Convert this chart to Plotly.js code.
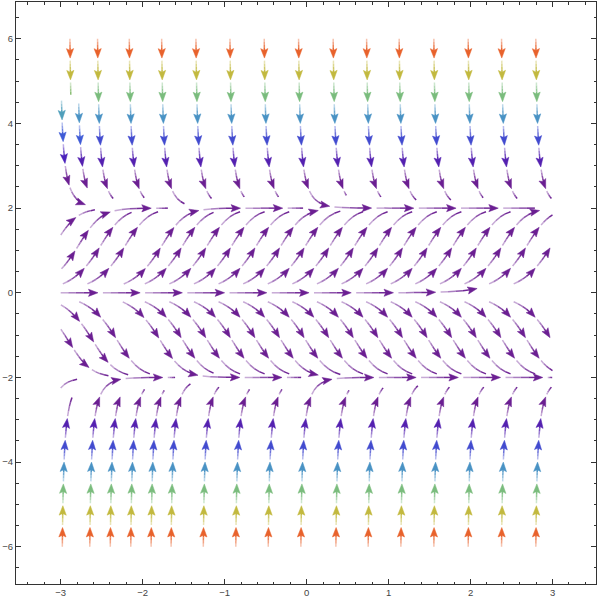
<!DOCTYPE html>
<html><head><meta charset="utf-8">
<script src="https://cdn.plot.ly/plotly-3.0.1.min.js"></script>
<style>html,body{margin:0;padding:0;background:#fff}</style>
</head><body><div id="chart" style="width:600px;height:598px"></div>
<script>
// ---------- chart data ----------
// vector field  dx/dt = fieldX ,  dy/dt = fieldYCoef[0]*y + fieldYCoef[1]*y^3
const fieldX = 1;
const fieldYCoef = [4, -1];
const streamXRange = [-3, 3];
const streamYRange = [-6, 6];
const xTickVals = [-3, -2, -1, 0, 1, 2, 3];
const yTickVals = [-6, -4, -2, 0, 2, 4, 6];

// streamlines: start point and where each one stops
const lineStartX = [-3.0,
  -2.887, -2.55, -2.163, -1.768, -1.35, -0.935, -0.517, -0.098, 0.324, 0.732, 1.129, 1.552, 1.971, 2.378, 2.796,
  -2.99, -2.78,
  -2.98, -2.645, -2.395, -2.145, -1.897, -1.653, -1.26, -0.864, -0.468, -0.07, 0.357, 0.751, 1.15, 1.552, 1.971, 2.378, 2.796,
  -3.0, -2.99, -1.646, -1.69];
const lineStartY = [1.5e-10,
  6, 6, 6, 6, 6, 6, 6, 6, 6, 6, 6, 6, 6, 6, 6,
  4.54, 4.47,
  -6, -6, -6, -6, -6, -6, -6, -6, -6, -6, -6, -6, -6, -6, -6, -6, -6,
  -2.25, 0.565, 1.47, -1.41];
const lineStopY = [null,
  4.66, 2.22, 2.24, 2.10, 2.22, 2.26, 2.26, null, 2.30, 2.26, 2.18, 2.18, 2.24, 2.22, 2.22,
  2.04, 2.38,
  -2.47, null, -2.35, -2.27, -2.30, -2.14, -2.22, -2.27, -2.27, null, -2.30, -2.23, -2.19, -2.22, -2.22, -2.22, -2.22,
  null, null, null, null];
const lineStopX = [2.15,
  null, null, null, null, null, null, null, 2.79, null, null, null, null, null, null, null,
  null, null,
  null, -1.6, null, null, null, null, null, null, null, 3, null, null, null, null, null, null, null,
  -2.79, -1.69, -0.04, -0.06];
const lineTraceBack = [0,
  0,0,0,0,0,0,0,0,0,0,0,0,0,0,0,
  0,0,
  0,0,0,0,0,0,0,0,0,0,0,0,0,0,0,0,0,
  0,0,1,1];
// rows of extra seed points between the equilibria (filled where there is room)
const seedRowsY = [1.0, -1.0, 0.5, -0.5, 1.5, -1.5, 0.25, -0.25, 1.75, -1.75, 0.75, -0.75, 1.25, -1.25];

// ---------- geometry ----------
const W = 600, H = 598;
const margin = {l: 16, r: 4, t: 2, b: 14, pad: 0};
const xr = [-3.545, 3.53], yr = [-6.88, 6.87];
const pw = W - margin.l - margin.r, ph = H - margin.t - margin.b;
const sx = pw / (xr[1] - xr[0]), sy = ph / (yr[1] - yr[0]);
const toPx = (x, y) => [(x - xr[0]) * sx, (yr[1] - y) * sy];
const toX = p => xr[0] + p[0] / sx;
const toY = p => yr[1] - p[1] / sy;

function vel(x, y) { return [fieldX, fieldYCoef[0] * y + fieldYCoef[1] * y * y * y]; }
function dirPx(p) {
  const v = vel(toX(p), toY(p));
  const a = v[0] * sx, b = -v[1] * sy;
  const m = Math.hypot(a, b) || 1;
  return [a / m, b / m];
}
function rk4(p, h) {
  const k1 = dirPx(p);
  const k2 = dirPx([p[0] + h / 2 * k1[0], p[1] + h / 2 * k1[1]]);
  const k3 = dirPx([p[0] + h / 2 * k2[0], p[1] + h / 2 * k2[1]]);
  const k4 = dirPx([p[0] + h * k3[0], p[1] + h * k3[1]]);
  return [p[0] + h / 6 * (k1[0] + 2 * k2[0] + 2 * k3[0] + k4[0]),
          p[1] + h / 6 * (k1[1] + 2 * k2[1] + 2 * k3[1] + k4[1])];
}

// spatial grid for spacing
const CELL = 8, grid = new Map();
const gkey = (i, j) => (i + 100) * 1000 + (j + 100);
function register(pts, id) {
  for (const p of pts) {
    const k = gkey(Math.floor(p[0] / CELL), Math.floor(p[1] / CELL));
    if (!grid.has(k)) grid.set(k, []);
    grid.get(k).push([p[0], p[1], id]);
  }
}
function near(px, py, d, id) {
  const r = Math.ceil(d / CELL), i0 = Math.floor(px / CELL), j0 = Math.floor(py / CELL), d2 = d * d;
  for (let i = i0 - r; i <= i0 + r; i++) for (let j = j0 - r; j <= j0 + r; j++) {
    const a = grid.get(gkey(i, j)); if (!a) continue;
    for (const q of a) { if (q[2] === id) continue; const dx = q[0] - px, dy = q[1] - py; if (dx * dx + dy * dy < d2) return true; }
  }
  return false;
}

function integrate(x0, y0, sign, o) {
  let p = toPx(x0, y0); const pts = [p];
  const yDown = o.stopY != null && o.stopY < y0;
  for (let n = 0; n < 4000; n++) {
    const q = rk4(p, sign * 1.0);
    const x = toX(q), y = toY(q);
    if (x < streamXRange[0] - 1e-9 || x > streamXRange[1] + 1e-9 || y < streamYRange[0] - 1e-9 || y > streamYRange[1] + 1e-9) break;
    if (o.stopX != null && x >= o.stopX) break;
    if (o.stopY != null && (yDown ? y <= o.stopY : y >= o.stopY)) break;
    if (o.dtest && near(q[0], q[1], o.dtest, o.id)) break;
    if (o.angle) { const d = dirPx(q); if (Math.abs(d[1]) < o.angle) break; }
    pts.push(q); p = q;
  }
  return pts;
}

const allLines = [];
let lid = 0;
const DSEP = 17, DT_F = 3.5, DT_B = 3.5;
const ANG_F = Math.sin(9 * Math.PI / 180), ANG_B = Math.sin(23 * Math.PI / 180);
// explicit lines
for (let i = 0; i < lineStartX.length; i++) {
  const id = lid++;
  const fwd = integrate(lineStartX[i], lineStartY[i], 1, {stopX: lineStopX[i], stopY: lineStopY[i], id});
  let pts = fwd;
  if (lineTraceBack[i]) {
    const bwd = integrate(lineStartX[i], lineStartY[i], -1, {dtest: DT_B, id, angle: ANG_B});
    pts = bwd.reverse().concat(fwd.slice(1));
  }
  register(pts, id); allLines.push(pts);
}
// automatic fill between equilibria
for (const ys of seedRowsY) {
  for (let k = 0; k < 60; k++) {
    const xs = -2.95 + 0.1 * k;
    const p = toPx(xs, ys);
    if (near(p[0], p[1], DSEP, -1)) continue;
    const id = lid++;
    const fwd = integrate(xs, ys, 1, {dtest: DT_F, id, angle: ANG_F});
    const bwd = integrate(xs, ys, -1, {dtest: DT_B, id, angle: ANG_B});
    const pts = bwd.reverse().concat(fwd.slice(1));
    if (pts.length < 12) continue;
    register(pts, id); allLines.push(pts);
  }
}

// ---------- styling ----------
const colorStops = [[0, '#6b1f92'], [0.06, '#6b1f92'], [0.125, '#4a22bd'], [0.21, '#3e60d8'], [0.32, '#4b9cc0'],
  [0.46, '#7bbd7b'], [0.65, '#c6b93c'], [0.89, '#e8622c'], [1, '#e8622c']];
const hex2rgb = h => [parseInt(h.slice(1, 3), 16), parseInt(h.slice(3, 5), 16), parseInt(h.slice(5, 7), 16)];
function colorAt(u) {
  for (let i = 1; i < colorStops.length; i++) {
    if (u <= colorStops[i][0]) {
      const [u0, c0] = colorStops[i - 1], [u1, c1] = colorStops[i];
      const t = (u - u0) / ((u1 - u0) || 1), a = hex2rgb(c0), b = hex2rgb(c1);
      return a.map((v, j) => v + t * (b[j] - v));
    }
  }
  return hex2rgb(colorStops[colorStops.length - 1][1]);
}
const vmax = Math.hypot(...vel(0, streamYRange[1]));
const NB = 40;
function bin(x, y) { const u = Math.min(1, Math.hypot(...vel(x, y)) / vmax); return Math.round(Math.sqrt(u) * NB); }
function binColor(b, w) {
  const c = colorAt(Math.pow(b / NB, 2));
  const m = c.map(v => Math.round(v + (255 - v) * w));
  return `rgb(${m[0]},${m[1]},${m[2]})`;
}
const FADE = [0.62, 0.42, 0.22, 0.04];
const P_ARC = 0.515, D_ARC = 0.455, AL = 9.5, AW = 3.6;

const lineBuckets = new Map(), arrowBuckets = new Map();
function bucket(map, k) { if (!map.has(k)) map.set(k, {x: [], y: []}); return map.get(k); }
function pushPx(bk, pts) { for (const p of pts) { bk.x.push(toX(p)); bk.y.push(toY(p)); } bk.x.push(null); bk.y.push(null); }

function pxLen(pts) { let L = 0; for (let i = 1; i < pts.length; i++) L += Math.hypot(pts[i][0] - pts[i - 1][0], pts[i][1] - pts[i - 1][1]); return L; }
function trimEnd(pts, len) {
  let acc = 0;
  for (let i = pts.length - 1; i > 0; i--) {
    const d = Math.hypot(pts[i][0] - pts[i - 1][0], pts[i][1] - pts[i - 1][1]);
    if (acc + d >= len) { const t = (len - acc) / d; const q = [pts[i][0] + t * (pts[i - 1][0] - pts[i][0]), pts[i][1] + t * (pts[i - 1][1] - pts[i][1])]; return pts.slice(0, i).concat([q]); }
    acc += d;
  }
  return [pts[0]];
}
function splitPx(pts, parts) {
  const L = pxLen(pts), out = []; let cur = [pts[0]], acc = 0, target = L / parts, idx = 1;
  for (let i = 1; i < pts.length; i++) {
    let a = pts[i - 1], b = pts[i], d = Math.hypot(b[0] - a[0], b[1] - a[1]);
    while (idx < parts && acc + d >= target * idx) {
      const t = (target * idx - acc) / d; const q = [a[0] + t * (b[0] - a[0]), a[1] + t * (b[1] - a[1])];
      cur.push(q); out.push(cur); cur = [q]; idx++;
    }
    cur.push(b); acc += d;
  }
  out.push(cur);
  return out;
}

function drawLine(pts) {
  const n = pts.length; if (n < 2) return;
  const s = new Array(n); s[0] = 0;
  for (let i = 1; i < n; i++) s[i] = s[i - 1] + Math.hypot((pts[i][0] - pts[i - 1][0]) / sx, (pts[i][1] - pts[i - 1][1]) / sy);
  const total = s[n - 1];
  const at = v => {
    let lo = 0, hi = n - 1; while (hi - lo > 1) { const m = (lo + hi) >> 1; if (s[m] <= v) lo = m; else hi = m; }
    const t = (v - s[lo]) / ((s[hi] - s[lo]) || 1);
    return [pts[lo][0] + t * (pts[hi][0] - pts[lo][0]), pts[lo][1] + t * (pts[hi][1] - pts[lo][1])];
  };
  const slice = (a, b) => { const o = [at(a)]; for (let i = 0; i < n; i++) if (s[i] > a && s[i] < b) o.push(pts[i]); o.push(at(b)); return o; };
  for (let k = 0; k * P_ARC < total - 0.03; k++) {
    const a = k * P_ARC, full = a + D_ARC <= total + 1e-9, b = Math.min(a + D_ARC, total);
    let seg = slice(a, b);
    if (pxLen(seg) < 2) continue;
    const mid = at((a + b) / 2), cb = bin(toX(mid), toY(mid));
    if (full && pxLen(seg) > AL + 2) {
      const tip = seg[seg.length - 1], d = dirPx(tip), nn = [-d[1], d[0]];
      const base = [tip[0] - AL * d[0], tip[1] - AL * d[1]];
      const notch = [tip[0] - (AL - 1.8) * d[0], tip[1] - (AL - 1.8) * d[1]];
      pushPx(bucket(arrowBuckets, cb), [tip, [base[0] + AW * nn[0], base[1] + AW * nn[1]], notch, [base[0] - AW * nn[0], base[1] - AW * nn[1]], tip]);
      seg = trimEnd(seg, AL - 2.5);
    }
    const parts = splitPx(seg, FADE.length);
    parts.forEach((pp, f) => pushPx(bucket(lineBuckets, cb + '_' + f), pp));
  }
}
allLines.forEach(drawLine);

const traces = [];
for (const [k, bk] of lineBuckets) {
  const [cb, f] = k.split('_').map(Number);
  traces.push({type: 'scatter', mode: 'lines', x: bk.x, y: bk.y, connectgaps: false, hoverinfo: 'skip',
    line: {color: binColor(cb, FADE[f]), width: 1.5}});
}
for (const [cb, bk] of arrowBuckets) {
  traces.push({type: 'scatter', mode: 'lines', x: bk.x, y: bk.y, fill: 'toself', fillcolor: binColor(cb, 0), hoverinfo: 'skip',
    line: {color: binColor(cb, 0), width: 0.5}});
}

const axisCommon = {
  showgrid: false, zeroline: false, showline: true, linecolor: '#333', linewidth: 1, mirror: 'ticks',
  ticks: 'inside', ticklen: 5, tickwidth: 1, tickcolor: '#333', fixedrange: true,
  tickfont: {family: 'Liberation Sans, Arial, sans-serif', size: 9.5, color: '#444'}
};
const layout = {
  width: W, height: H, margin, paper_bgcolor: '#fff', plot_bgcolor: '#fff', showlegend: false,
  xaxis: Object.assign({}, axisCommon, {range: xr, tickmode: 'array', tickvals: xTickVals,
    minor: {tickmode: 'linear', tick0: 0, dtick: 0.2, ticks: 'inside', ticklen: 2.5, tickcolor: '#333', showgrid: false}}),
  yaxis: Object.assign({}, axisCommon, {range: yr, tickmode: 'array', tickvals: yTickVals,
    minor: {tickmode: 'linear', tick0: 0, dtick: 0.5, ticks: 'inside', ticklen: 2.5, tickcolor: '#333', showgrid: false}})
};
Plotly.newPlot('chart', traces, layout, {displayModeBar: false, staticPlot: true});
</script></body></html>
